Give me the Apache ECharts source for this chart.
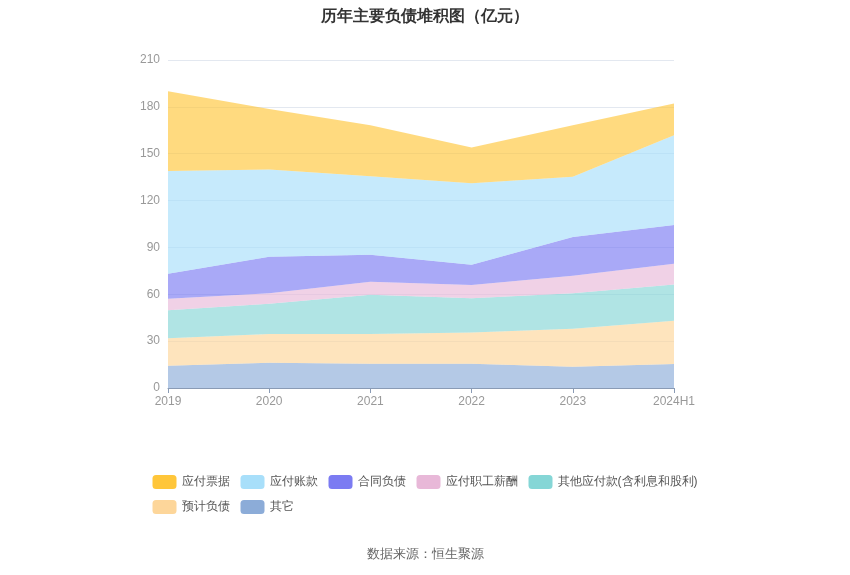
<!DOCTYPE html>
<html><head><meta charset="utf-8">
<script src="https://cdn.jsdelivr.net/npm/echarts@6/dist/echarts.min.js"></script>
<style>html,body{margin:0;padding:0;background:#fff}#c{width:850px;height:575px}</style>
</head><body><div id="c"></div>
<script>
var categories = ['2019','2020','2021','2022','2023','2024H1'];
var otherVals = [14.3, 16.2, 15.6, 15.6, 13.6, 15.4];
var provisionVals = [17.5, 18.3, 18.9, 20.0, 24.4, 27.7];
var otherPayableVals = [17.9, 19.4, 25.2, 21.8, 22.6, 23.2];
var payrollVals = [7.4, 6.7, 8.3, 8.5, 11.3, 13.2];
var contractVals = [16.0, 23.4, 17.3, 13.0, 24.7, 24.8];
var accountsVals = [65.9, 55.9, 50.3, 52.2, 38.6, 57.5];
var notesVals = [51.0, 38.8, 32.6, 22.8, 33.0, 20.3];
var yTicks = [0, 30, 60, 90, 120, 150, 180, 210];

var seriesDefs = [
  ['其它', otherVals, '#8CACD8'],
  ['预计负债', provisionVals, '#FDD69A'],
  ['其他应付款(含利息和股利)', otherPayableVals, '#85D6D6'],
  ['应付职工薪酬', payrollVals, '#E8B8D8'],
  ['合同负债', contractVals, '#7B7BF2'],
  ['应付账款', accountsVals, '#A8DFFA'],
  ['应付票据', notesVals, '#FFC63A']
];
var series = seriesDefs.map(function(d){
  return {name:d[0], type:'line', stack:'total', data:d[1], symbol:'none', showSymbol:false,
    lineStyle:{width:0}, itemStyle:{color:d[2]}, areaStyle:{color:d[2], opacity:0.65}};
});
var chart = echarts.init(document.getElementById('c'));
chart.setOption({
  animation:false,
  title:{text:'历年主要负债堆积图（亿元）', left:'center', top:4,
    textStyle:{fontSize:16, fontWeight:'bold', color:'#333'}},
  graphic:[{type:'text', left:'center', top:548, style:{text:'数据来源：恒生聚源', fontSize:13, fill:'#666'}}],
  legend:{bottom:56, left:'center', width:580, icon:'roundRect', itemWidth:24, itemHeight:14, itemGap:11,
    textStyle:{fontSize:12, color:'#555'},
    data:['应付票据','应付账款','合同负债','应付职工薪酬','其他应付款(含利息和股利)','预计负债','其它']},
  grid:{left:168, right:176, top:60, bottom:187},
  xAxis:{type:'category', data:categories, boundaryGap:false,
    axisLine:{lineStyle:{color:'#8A9BB5'}}, axisTick:{show:true, lineStyle:{color:'#8A9BB5'}},
    axisLabel:{color:'#999', fontSize:12, margin:8}},
  yAxis:{type:'value', min:yTicks[0], max:yTicks[yTicks.length-1], interval:30,
    axisLine:{show:false}, axisTick:{show:false},
    axisLabel:{color:'#999', fontSize:12, margin:8},
    splitLine:{lineStyle:{color:'#E3E8F0'}}},
  series:series
});
</script></body></html>
